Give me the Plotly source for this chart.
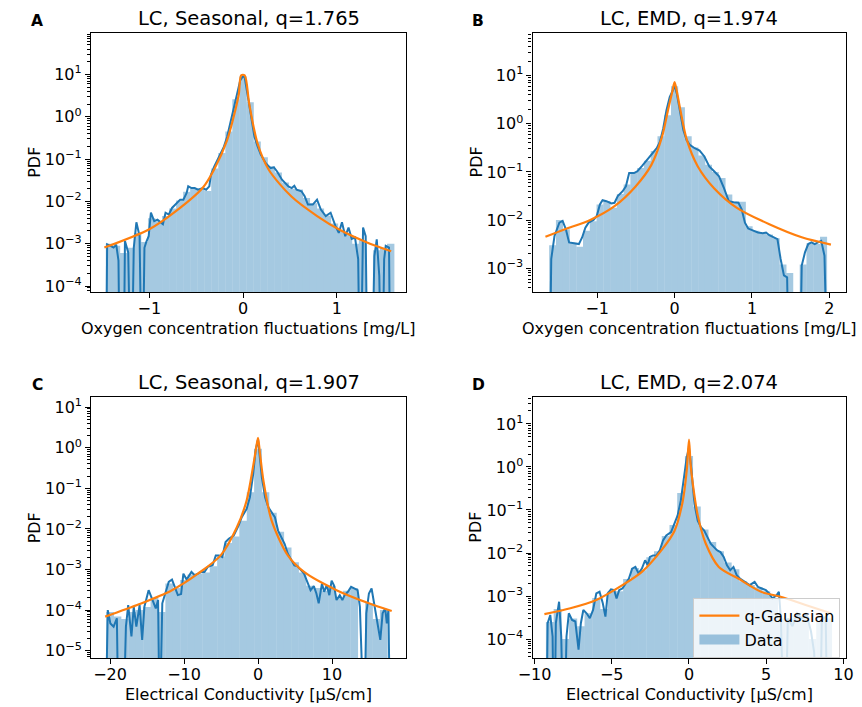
import numpy as np
import plotly.graph_objects as go

# ---------------- data ----------------
# Panel A : LC, Seasonal, oxygen
A_title = "LC, Seasonal, q=1.765"
A_xlabel = "Oxygen concentration fluctuations [mg/L]"
A_bin_first, A_bin_width = -1.425, 0.075
A_hist = [0.0010, 0.0009, 0.0006, 0.0008, 0.0018, 0.0011, 0.0040, 0.0034, 0.0045, 0.0068,
          0.0105, 0.0170, 0.0205, 0.0200, 0.0175, 0.060, 0.14, 0.45, 2.6, 9.0,
          2.2, 0.26, 0.11, 0.068, 0.048, 0.028, 0.020, 0.019, 0.012, 0.0090,
          0.0068, 0.0046, 0.0030, 0.0020, 0.0016, 0.0010, 0.0012, None, 0.0007, 0.0008, 0.0010]
A_kde_x = [-1.464, -1.450, -1.415, -1.381, -1.353, -1.329, -1.311, -1.277, -1.260, -1.225,
           -1.194, -1.166, -1.138, -1.104, -1.076, -1.052, -1.035, -1.007, -0.983, -0.948,
           -0.913, -0.879, -0.855, -0.827, -0.792, -0.758, -0.706, -0.671, -0.637, -0.602,
           -0.585, -0.550, -0.516, -0.481, -0.429, -0.394, -0.360, -0.343, -0.308, -0.273,
           -0.239, -0.204, -0.170, -0.135, -0.100, -0.066, -0.031, -0.003,
           0.017, 0.052, 0.087, 0.121, 0.156, 0.190, 0.242, 0.294, 0.329, 0.363,
           0.415, 0.484, 0.519, 0.547, 0.571, 0.623, 0.657, 0.692, 0.744, 0.789,
           0.830, 0.882, 0.934, 0.986, 1.021, 1.055, 1.090, 1.125, 1.159, 1.194,
           1.228, 1.250, 1.280, 1.308, 1.332, 1.367, 1.401, 1.426, 1.453, 1.481,
           1.505, 1.522, 1.557, 1.574]
A_kde_y = [1e-7, 0.00097, 0.00089, 0.00081, 0.00095, 0.0004, 1e-7, 1e-7, 0.00116, 0.00062,
           1e-7, 0.0008, 0.0032, 0.00152, 1e-7, 0.0008, 0.00106, 0.0015, 0.0054, 0.0034,
           0.0037, 0.0031, 0.0029, 0.0054, 0.0049, 0.0070, 0.0092, 0.0110, 0.0110, 0.0158,
           0.0227, 0.0207, 0.0207, 0.0189, 0.0207, 0.0189, 0.0227, 0.0426, 0.0667, 0.096,
           0.126, 0.197, 0.337, 0.70, 1.71, 3.5, 7.2, 9.0,
           8.6, 2.93, 1.0, 0.337, 0.197, 0.126, 0.080, 0.061, 0.064, 0.051,
           0.0325, 0.0227, 0.0207, 0.0234, 0.0189, 0.0173, 0.0132, 0.0084, 0.0084, 0.0110,
           0.0064, 0.0045, 0.0054, 0.0026, 0.0018, 0.0032, 0.0015, 0.0024, 0.0013, 0.0014,
           0.00043, 1e-7, 0.0024, 0.0015, 1e-7, 1e-7, 0.00051, 0.00127, 0.000175, 1e-7,
           0.00043, 0.00089, 0.00081, 1e-7]
A_qg_x = [-1.48, -1.0, -0.72, -0.43, -0.31, -0.17, -0.083, -0.045, -0.02, 0.017, 0.066,
          0.153, 0.274, 0.516, 0.79, 1.035, 1.31, 1.58]
A_qg_y = [8.1e-4, 2.2e-3, 5.8e-3, 0.021, 0.056, 0.28, 1.43, 3.5, 9.5, 9.5, 2.0,
          0.24, 0.056, 0.013, 4.5e-3, 2.1e-3, 1.1e-3, 6.6e-4]
A_xticks = [-1, 0, 1]
A_xticktext = ["\u22121", "0", "1"]
A_yexp = [-4, -3, -2, -1, 0, 1]

# Panel B : LC, EMD, oxygen
B_title = "LC, EMD, q=1.974"
B_xlabel = "Oxygen concentration fluctuations [mg/L]"
B_bin_first, B_bin_width = -1.575, 0.0875
B_hist = [0.003, 0.010, 0.0065, 0.0034, 0.0028, 0.0060, 0.0095, 0.021, 0.025, 0.018,
          0.035, 0.055, 0.095, 0.12, 0.17, 0.27, 0.55, 1.5, 6.0, 2.2,
          0.55, 0.32, 0.22, 0.14, 0.10, 0.075, 0.034, 0.024, 0.024, 0.0075,
          0.0060, 0.0054, 0.0050, 0.0042, 0.0012, 0.0008, None, 0.0012, 0.0033, 0.0032, 0.0045]
B_kde_x = [-1.627, -1.594, -1.552, -1.489, -1.447, -1.405, -1.363, -1.300, -1.237, -1.195,
           -1.153, -1.111, -1.048, -1.006, -0.965, -0.931, -0.881, -0.818, -0.776, -0.734,
           -0.671, -0.629, -0.587, -0.525, -0.483, -0.420, -0.357, -0.294, -0.231, -0.189,
           -0.147, -0.105, -0.063, -0.021, 0.0,
           0.029, 0.071, 0.113, 0.155, 0.197, 0.260, 0.323, 0.385, 0.448, 0.511,
           0.574, 0.637, 0.700, 0.763, 0.825, 0.867, 0.909, 0.951, 1.014, 1.077,
           1.140, 1.182, 1.224, 1.287, 1.329, 1.370, 1.413, 1.454, 1.496, 1.601,
           1.643, 1.685, 1.727, 1.769, 1.811, 1.853, 1.895, 1.937, 2.000]
B_kde_y = [1e-7, 0.00156, 0.00471, 0.00887, 0.0096, 0.00647, 0.00344, 0.00333, 0.00318, 0.00436,
           0.0070, 0.00887, 0.0101, 0.0122, 0.0211, 0.0259, 0.0247, 0.0221, 0.0229, 0.0314,
           0.0398, 0.0504, 0.0948, 0.0948, 0.1026, 0.134, 0.178, 0.245, 0.310, 0.425,
           0.80, 1.90, 3.58, 5.0, 6.2,
           4.2, 1.63, 0.74, 0.46, 0.363, 0.31, 0.278, 0.209, 0.130, 0.103,
           0.081, 0.0466, 0.0247, 0.0236, 0.0229, 0.0167, 0.00887, 0.00668, 0.00598, 0.00553,
           0.00535, 0.00553, 0.00487, 0.00436, 0.00403, 0.00156, 0.00071, 0.00065, 1e-7, 1e-7,
           0.00114, 0.00214, 0.00318, 0.00344, 0.00318, 0.00344, 0.00371, 0.00183, 1e-7]
B_qg_x = [-1.669, -1.426, -1.09, -0.776, -0.504, -0.30, -0.165, -0.08, -0.03, 0.0, 0.03,
          0.075, 0.16, 0.30, 0.51, 0.805, 1.224, 1.643, 2.02]
B_qg_y = [0.0045, 0.0064, 0.0101, 0.0195, 0.050, 0.14, 0.52, 2.1, 4.6, 7.3, 4.6,
          1.9, 0.45, 0.13, 0.046, 0.018, 0.0082, 0.0044, 0.0031]
B_xticks = [-1, 0, 1, 2]
B_xticktext = ["\u22121", "0", "1", "2"]
B_yexp = [-3, -2, -1, 0, 1]

# Panel C : LC, Seasonal, conductivity
C_title = "LC, Seasonal, q=1.907"
C_xlabel = "Electrical Conductivity [\u00b5S/cm]"
C_bin_first, C_bin_width = -20.0, 1.0
C_hist = [9e-5, 7e-5, 6e-5, 9e-5, 1.0e-4, 1.2e-4, 2.0e-4, 9e-5, 4.5e-4, 3.5e-4,
          5.5e-4, 7.5e-4, 8.0e-4, 8.5e-4, 1.2e-3, 2.1e-3, 4.5e-3, 6.5e-3, 0.016, 0.08,
          0.95,
          0.08, 0.025, 0.0085, 3.5e-3, 1.5e-3, 8.5e-4, 4.0e-4, 3.5e-4, 3.0e-4, 4.0e-4,
          2.0e-4, 3.0e-4, 3.5e-4, None, 1.5e-4, 6e-5, 1.0e-4]
C_kde_x = [-20.62, -20.31, -19.96, -19.52, -19.08, -18.86, -18.21, -17.86, -17.55, -17.11,
           -16.80, -16.45, -16.01, -15.66, -15.36, -14.79, -14.26, -13.82, -13.51, -13.29,
           -12.94, -12.50, -12.07, -11.63, -11.28, -10.84, -10.40, -10.09, -9.65, -9.00,
           -8.56, -8.12, -7.68, -7.24, -6.80, -6.14, -5.71, -5.27, -4.83, -4.39,
           -3.95, -3.29, -2.63, -2.20, -1.54, -1.10, -0.66, -0.31, 0.0,
           0.52, 0.96, 1.40, 1.84, 2.28, 2.71, 3.15, 3.59, 4.03, 4.47,
           4.91, 5.35, 5.79, 6.22, 6.66, 7.10, 7.54, 7.89, 8.20, 8.64,
           8.94, 9.29, 9.64, 9.95, 10.26, 10.61, 11.05, 11.40, 11.71, 12.15,
           12.58, 13.02, 13.46, 13.77, 14.03, 14.34, 14.64, 14.99, 15.35, 15.79,
           16.22, 16.53, 16.84, 17.19, 17.41, 17.63, 17.85]
C_kde_y = [1e-7, 1.0e-4, 4.7e-5, 3.9e-5, 6.3e-5, 1e-7, 1e-7, 3.9e-5, 1.33e-4, 2.24e-5,
           1.21e-4, 3.9e-5, 1.33e-4, 1.85e-5, 1.21e-4, 3.1e-4, 1.77e-4, 1.1e-4, 1.77e-4, 1e-7,
           1.47e-4, 2.57e-4, 4.97e-4, 5.66e-4, 3.74e-4, 2.34e-4, 2.48e-4, 7.9e-4, 5.66e-4, 8.7e-4,
           7.2e-4, 7.9e-4, 8.7e-4, 8.7e-4, 1.16e-3, 1.27e-3, 2.23e-3, 2.23e-3, 2.03e-3, 4.73e-3,
           5.7e-3, 6.9e-3, 0.0121, 0.0194, 0.031, 0.0597, 0.222, 0.91, 1.6,
           0.184, 0.0597, 0.034, 0.0257, 0.0194, 9.1e-3, 6.3e-3, 4.3e-3, 2.45e-3, 1.68e-3,
           1.27e-3, 1.2e-3, 9.6e-4, 7.9e-4, 4.97e-4, 3.1e-4, 3.9e-4, 2.57e-4, 1.47e-4, 4.5e-4,
           2.83e-4, 4.1e-4, 2.34e-4, 5.3e-4, 4.1e-4, 1.77e-4, 2.34e-4, 1.77e-4, 2.34e-4, 2.83e-4,
           3.74e-4, 3.4e-4, 3.1e-4, 1.21e-4, 1e-7, 1e-7, 8.3e-5, 2.57e-4, 3.4e-4, 1.21e-4,
           4.7e-5, 1.85e-5, 8.3e-5, 1.1e-4, 4.7e-5, 1.0e-4, 1e-7]
C_qg_x = [-20.66, -16.01, -11.63, -8.12, -5.05, -2.86, -1.54, -0.66, -0.25, 0.0, 0.25,
          0.74, 1.84, 4.03, 6.22, 10.61, 14.99, 18.07]
C_qg_y = [6.9e-5, 1.41e-4, 3.1e-4, 7.9e-4, 2.23e-3, 0.011, 0.05, 0.35, 1.0, 1.76, 0.75,
          0.15, 0.016, 2.23e-3, 8.7e-4, 3.1e-4, 1.47e-4, 9.5e-5]
C_xticks = [-20, -10, 0, 10]
C_xticktext = ["\u221220", "\u221210", "0", "10"]
C_yexp = [-5, -4, -3, -2, -1, 0, 1]

# Panel D : LC, EMD, conductivity
D_title = "LC, EMD, q=2.074"
D_xlabel = "Electrical Conductivity [\u00b5S/cm]"
D_bin_first, D_bin_width = -9.0, 0.5
D_hist = [2.5e-4, 5e-4, 1e-4, 3e-4, 2e-4, 4e-4, 9e-4, 5e-4, 1.3e-3, 1.3e-3,
          2.5e-3, 4.5e-3, 4e-3, 8e-3, 0.011, 0.025, 0.045, 0.25, 1.8,
          0.12, 0.035, 0.018, 0.011, 6e-3, 4.2e-3, 2.2e-3, 1.8e-3, 1.6e-3, 1.3e-3,
          9e-4, 3e-4, 3e-4, 3.5e-4, 3.5e-4, 1e-4, 2.5e-4, 3e-4]
D_kde_x = [-9.26, -9.15, -8.98, -8.83, -8.73, -8.62, -8.41, -8.27, -8.10, -7.93,
           -7.78, -7.57, -7.36, -7.15, -7.00, -6.84, -6.63, -6.42, -6.21, -6.00,
           -5.79, -5.58, -5.41, -5.26, -5.05, -4.84, -4.69, -4.52, -4.31, -4.10,
           -3.89, -3.68, -3.47, -3.26, -3.05, -2.84, -2.67, -2.53, -2.32, -2.11,
           -1.89, -1.68, -1.47, -1.16, -0.95, -0.74, -0.53, -0.32, -0.15, 0.0,
           0.145, 0.355, 0.566, 0.776, 0.986, 1.197, 1.407, 1.617, 1.828, 2.038,
           2.248, 2.459, 2.669, 2.880, 3.09, 3.30, 3.62, 3.93, 4.25, 4.46,
           4.71, 4.98, 5.19, 5.40, 5.68, 5.82, 5.95, 6.05, 6.2, 6.4,
           6.7, 7.0, 7.3, 7.6, 7.9, 8.1, 8.3, 8.45, 8.6, 8.85, 9.0]
D_kde_y = [1e-7, 2.34e-4, 3.64e-4, 1.15e-4, 1e-7, 2.34e-4, 7.4e-4, 1.15e-4, 1e-7, 1.15e-4,
           3.98e-4, 2.79e-4, 2.56e-4, 5.7e-5, 2.34e-4, 4.75e-4, 3.98e-4, 3.05e-4, 4.75e-4, 1.15e-3,
           1.26e-3, 6.8e-4, 3.33e-4, 1.15e-3, 1.43e-3, 1.37e-3, 8.8e-4, 1.37e-3, 1.5e-3, 1.96e-3,
           2.55e-3, 4.35e-3, 4.75e-3, 3.33e-3, 4.35e-3, 6.8e-3, 5.2e-3, 8.1e-3, 8.8e-3, 8.8e-3,
           0.0115, 0.0196, 0.0255, 0.0305, 0.0475, 0.074, 0.164, 0.676, 1.64, 2.8,
           0.96, 0.137, 0.0567, 0.0398, 0.0333, 0.0234, 0.0164, 0.0137, 0.0115, 0.0105,
           8.1e-3, 5.2e-3, 3.98e-3, 4.75e-3, 3.05e-3, 2.55e-3, 2.14e-3, 1.79e-3, 2.14e-3, 1.64e-3,
           1.5e-3, 1.37e-3, 1.15e-3, 8.8e-4, 1.05e-3, 1.26e-3, 3e-4, 1e-7, 1e-7, 3e-4,
           2e-4, 4e-4, 3e-4, 4e-4, 1.5e-4, 5e-5, 1e-7, 1e-7, 2.8e-4, 3.3e-4, 1e-7]
D_qg_x = [-9.36, -7.68, -6.0, -4.31, -3.05, -1.79, -0.95, -0.42, -0.15, 0.0, 0.1,
          0.25, 0.566, 1.09, 1.93, 3.19, 4.67, 5.93, 7.5, 9.19]
D_qg_y = [3.8e-4, 5.2e-4, 8.1e-4, 1.79e-3, 3.64e-3, 0.0115, 0.032, 0.15, 0.81, 4.3, 1.2,
          0.40, 0.075, 0.0164, 4.75e-3, 2.55e-3, 1.26e-3, 9.6e-4, 6.3e-4, 4e-4]
D_xticks = [-10, -5, 0, 5, 10]
D_xticktext = ["\u221210", "\u22125", "0", "5", "10"]
D_yexp = [-4, -3, -2, -1, 0, 1]

panel_letters = ["A", "B", "C", "D"]
ylabel = "PDF"
legend_fit = "q-Gaussian"
legend_data = "Data"

# ---------------- layout / style (pixels of the 862 x 707 page) ----------------
W, H = 862, 707
FONT = "DejaVu Sans"
FS = 16          # tick / axis label size
FS_TITLE = 19.5  # subplot title size
C_BAR = "rgb(165,201,225)"
C_LEG_PATCH = "rgb(152,192,220)"
C_KDE = "#1f77b4"
C_FIT = "#ff7f0e"

panels = [
    dict(title=A_title, xlabel=A_xlabel, bf=A_bin_first, bw=A_bin_width, hist=A_hist,
         kx=A_kde_x, ky=A_kde_y, qx=A_qg_x, qy=A_qg_y, xt=A_xticks, xtt=A_xticktext, ye=A_yexp,
         box=(78, 402, 32, 293), xr=[-1.623, 1.741], yr=[-4.14, 1.986]),
    dict(title=B_title, xlabel=B_xlabel, bf=B_bin_first, bw=B_bin_width, hist=B_hist,
         kx=B_kde_x, ky=B_kde_y, qx=B_qg_x, qy=B_qg_y, xt=B_xticks, xtt=B_xticktext, ye=B_yexp,
         box=(531.7, 853.7, 32, 293), xr=[-1.836, 2.214], yr=[-3.49, 1.887]),
    dict(title=C_title, xlabel=C_xlabel, bf=C_bin_first, bw=C_bin_width, hist=C_hist,
         kx=C_kde_x, ky=C_kde_y, qx=C_qg_x, qy=C_qg_y, xt=C_xticks, xtt=C_xticktext, ye=C_yexp,
         box=(78.3, 401.7, 399, 661.7), xr=[-22.55, 20.0], yr=[-5.18, 1.245]),
    dict(title=D_title, xlabel=D_xlabel, bf=D_bin_first, bw=D_bin_width, hist=D_hist,
         kx=D_kde_x, ky=D_kde_y, qx=D_qg_x, qy=D_qg_y, xt=D_xticks, xtt=D_xticktext, ye=D_yexp,
         box=(531.7, 853.7, 399, 661.7), xr=[-10.13, 10.16], yr=[-4.44, 1.622]),
]

fig = go.Figure()
layout = dict(
    width=W, height=H, margin=dict(l=0, r=0, t=0, b=0),
    paper_bgcolor="white", plot_bgcolor="white",
    font=dict(family=FONT, size=FS, color="black"),
    showlegend=True,
    legend=dict(x=697 / W, y=1 - 601 / H, xanchor="left", yanchor="top",
                bgcolor="rgba(255,255,255,0.8)", bordercolor="#cccccc", borderwidth=1,
                font=dict(size=FS, family=FONT), tracegroupgap=2, itemwidth=40),
    annotations=[],
)

for i, p in enumerate(panels):
    sfx = "" if i == 0 else str(i + 1)
    xa, ya = "x" + sfx, "y" + sfx
    last = (i == 3)
    centers = p["bf"] + p["bw"] * np.arange(len(p["hist"]))
    fig.add_trace(go.Bar(x=centers, y=p["hist"], width=p["bw"] * 1.05, xaxis=xa, yaxis=ya,
                         marker=dict(color=C_BAR, line=dict(width=0)),
                         name=legend_data, showlegend=False, hoverinfo="skip"))
    fig.add_trace(go.Scatter(x=p["kx"], y=p["ky"], mode="lines", xaxis=xa, yaxis=ya,
                             line=dict(color=C_KDE, width=2), showlegend=False, hoverinfo="skip"))
    fig.add_trace(go.Scatter(x=p["qx"], y=p["qy"], mode="lines", xaxis=xa, yaxis=ya,
                             line=dict(color=C_FIT, width=2.2, shape="spline", smoothing=0.8),
                             name=legend_fit, showlegend=last, legendrank=1, hoverinfo="skip"))
    if last:
        # legend handle for the histogram (matplotlib draws a wide patch)
        fig.add_trace(go.Scatter(x=[None], y=[None], mode="lines", xaxis=xa, yaxis=ya,
                                 line=dict(color=C_LEG_PATCH, width=14),
                                 name=legend_data, showlegend=True, legendrank=2, hoverinfo="skip"))

    x0, x1, y0, y1 = p["box"]
    ylo, yhi = p["yr"]
    minor_vals = []
    for k in range(int(np.floor(ylo)), int(np.ceil(yhi)) + 1):
        for m in range(2, 10):
            v = m * 10.0 ** k
            if ylo <= np.log10(v) <= yhi:
                minor_vals.append(v)
    common = dict(showline=True, mirror=True, linecolor="black", linewidth=1.1,
                  ticks="outside", ticklen=5, tickwidth=1.1, tickcolor="black",
                  showgrid=False, zeroline=False,
                  tickfont=dict(family=FONT, size=FS, color="black"))
    layout["xaxis" + sfx] = dict(domain=[x0 / W, x1 / W], range=p["xr"], anchor=ya,
                                 tickmode="array", tickvals=p["xt"], ticktext=p["xtt"],
                                 ticklabelstandoff=-3, **common)
    layout["yaxis" + sfx] = dict(domain=[1 - y1 / H, 1 - y0 / H], range=p["yr"], anchor=xa,
                                 type="log", tickmode="array",
                                 tickvals=[10.0 ** e for e in p["ye"]],
                                 ticktext=["10<sup>%s</sup>" % (str(e).replace("-", "\u2212")) for e in p["ye"]],
                                 minor=dict(tickmode="array", tickvals=minor_vals, ticks="outside",
                                            ticklen=3, tickwidth=0.8, tickcolor="black", showgrid=False),
                                 **common)
    cx = (x0 + x1) / 2
    ann = layout["annotations"]
    ann.append(dict(text=p["title"], x=cx / W, y=1 - (y0 - 14.5) / H, xref="paper", yref="paper",
                    xanchor="center", yanchor="middle", showarrow=False,
                    font=dict(size=FS_TITLE, family=FONT, color="black")))
    ann.append(dict(text="<b>%s</b>" % panel_letters[i], x=(x0 - 55.5) / W, y=1 - (y0 - 12) / H,
                    xref="paper", yref="paper", xanchor="center", yanchor="middle", showarrow=False,
                    font=dict(size=15.5, family=FONT, color="black")))
    ann.append(dict(text=p["xlabel"], x=cx / W, y=1 - (y1 + 36.5) / H, xref="paper", yref="paper",
                    xanchor="center", yanchor="middle", showarrow=False,
                    font=dict(size=FS, family=FONT, color="black")))
    ann.append(dict(text=ylabel, x=(x0 - 58) / W, y=1 - ((y0 + y1) / 2) / H, xref="paper", yref="paper",
                    xanchor="center", yanchor="middle", showarrow=False, textangle=-90,
                    font=dict(size=FS, family=FONT, color="black")))

fig.update_layout(**layout)
fig.write_html("out.html")
